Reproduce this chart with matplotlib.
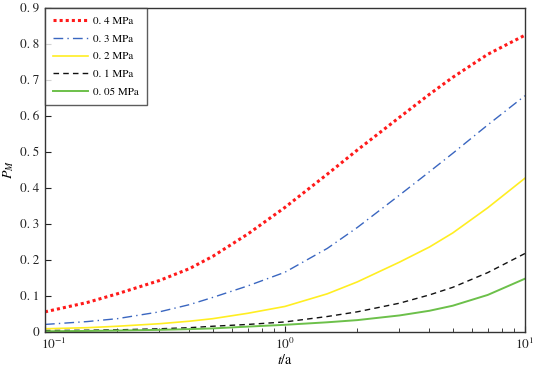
import matplotlib
matplotlib.use("Agg")
import matplotlib.pyplot as plt
from matplotlib.ticker import FixedLocator, FuncFormatter, LogLocator, NullFormatter
from matplotlib.transforms import ScaledTranslation

plt.rcParams['font.family'] = ['STIXGeneral', 'DejaVu Serif']
plt.rcParams['mathtext.fontset'] = 'stix'

t = [0.1, 0.15, 0.2, 0.3, 0.4, 0.5, 0.7, 1.0, 1.5, 2.0, 3.0, 4.0, 5.0, 7.0, 10.0]
p04 = [0.056, 0.082, 0.106, 0.143, 0.176, 0.210, 0.272, 0.346, 0.438, 0.505, 0.596, 0.660, 0.707, 0.771, 0.824]
p03 = [0.021, 0.029, 0.037, 0.056, 0.076, 0.096, 0.128, 0.166, 0.232, 0.290, 0.380, 0.445, 0.496, 0.575, 0.656]
p02 = [0.009, 0.012, 0.016, 0.023, 0.030, 0.037, 0.052, 0.071, 0.106, 0.139, 0.194, 0.236, 0.275, 0.345, 0.427]
p01 = [0.004, 0.005, 0.006, 0.009, 0.012, 0.016, 0.021, 0.028, 0.043, 0.056, 0.080, 0.103, 0.124, 0.165, 0.218]
p005 = [0.002, 0.003, 0.004, 0.006, 0.008, 0.010, 0.015, 0.020, 0.027, 0.033, 0.046, 0.059, 0.073, 0.103, 0.148]
labels = ['0. 4 MPa', '0. 3 MPa', '0. 2 MPa', '0. 1 MPa', '0. 05 MPa']
yticks = [0, 0.1, 0.2, 0.3, 0.4, 0.5, 0.6, 0.7, 0.8, 0.9]
xticks = [0.1, 1, 10]
xticklabels = [r'$10^{-1}$', r'$10^{0}$', r'$10^{1}$']

fig = plt.figure(figsize=(5.4, 3.68), dpi=100)
ax = fig.add_axes([0.0833, 0.0978, 0.8889, 0.881])

ax.plot(t, p04, color='#ff1a1a', linestyle=(0, (1, 1)), lw=2.2, label=labels[0])
ax.plot(t, p03, color='#3a66c0', linestyle=(0, (7, 3, 1, 3)), lw=1.0, label=labels[1])
ax.plot(t, p02, color='#ffee22', linestyle='-', lw=1.2, label=labels[2])
ax.plot(t, p01, color='#111111', linestyle=(0, (4, 3)), lw=1.0, label=labels[3])
ax.plot(t, p005, color='#6cc04a', linestyle='-', lw=1.4, label=labels[4])

ax.set_xscale('log')
ax.set_xlim(0.1, 10)
ax.set_ylim(0, 0.9)
ax.yaxis.set_major_locator(FixedLocator(yticks))
ax.yaxis.set_major_formatter(FuncFormatter(
    lambda v, p: '0' if abs(v) < 1e-9 else ('%.1f' % v).replace('.', '.\u2009')))
ax.set_xticks(xticks, xticklabels)
ax.xaxis.set_minor_locator(LogLocator(base=10, subs=range(2, 10)))
ax.xaxis.set_minor_formatter(NullFormatter())

ax.tick_params(axis='both', which='both', direction='in', labelsize=9.5, colors='#222222')
ax.tick_params(axis='both', which='major', length=4)
ax.tick_params(axis='x', which='minor', length=3)
ax.tick_params(axis='y', which='major', pad=4)
ax.tick_params(axis='x', which='major', pad=3.5)
for s in ax.spines.values():
    s.set_linewidth(1.0)
    s.set_color('#333333')

first = ax.xaxis.get_major_ticks()[0].label1
first.set_horizontalalignment('left')
first.set_transform(first.get_transform() + ScaledTranslation(-4 / 100, 0, fig.dpi_scale_trans))

ax.set_xlabel(r'$t$/a', fontsize=10, labelpad=1)
ax.set_ylabel(r'$P_M$', fontsize=10, labelpad=3)

leg = ax.legend(loc='upper left', fontsize=8, frameon=True, fancybox=False,
                edgecolor='#333333', borderaxespad=0, handlelength=3.1,
                handletextpad=0.45, labelspacing=0.72, borderpad=0.75)
leg.get_frame().set_linewidth(1.0)

fig.savefig('out.png', dpi=100)
